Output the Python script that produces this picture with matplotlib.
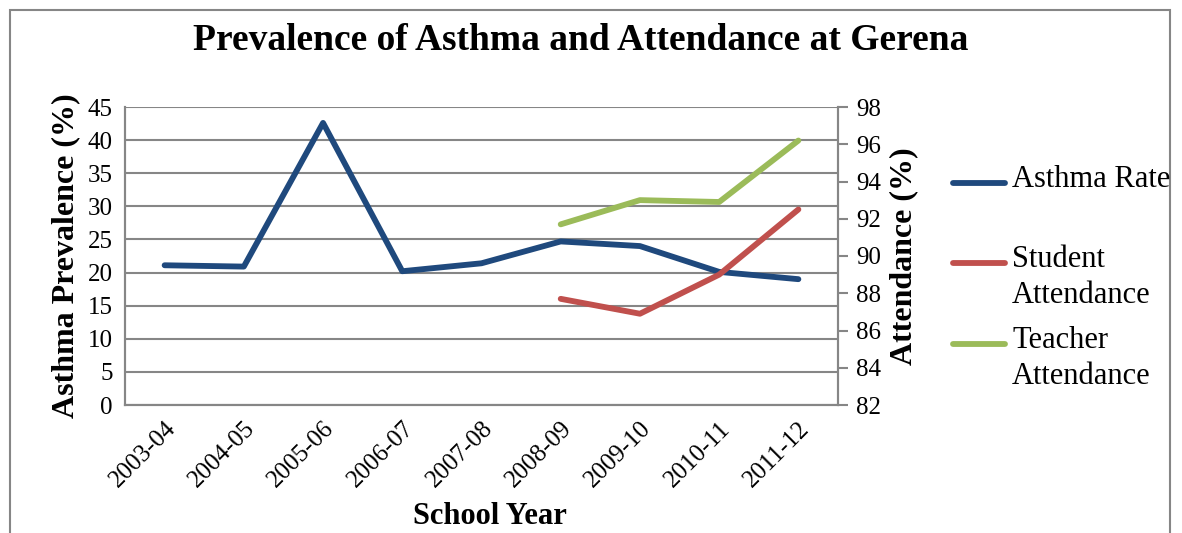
import numpy as np
import matplotlib.pyplot as plt
from matplotlib.lines import Line2D
from matplotlib.patches import Rectangle

years = ['2003-04', '2004-05', '2005-06', '2006-07', '2007-08', '2008-09', '2009-10', '2010-11', '2011-12']
asthma_rate = [21.1, 20.9, 42.6, 20.2, 21.4, 24.7, 24.0, 20.1, 19.0]
student_att = [np.nan, np.nan, np.nan, np.nan, np.nan, 87.7, 86.9, 89.0, 92.5]
teacher_att = [np.nan, np.nan, np.nan, np.nan, np.nan, 91.7, 93.0, 92.9, 96.2]

BLUE = '#1F497D'
RED = '#C0504D'
GREEN = '#9BBB59'
GREY = '#868686'

plt.rcParams['font.family'] = ['Liberation Serif', 'DejaVu Serif']

fig = plt.figure(figsize=(11.82, 5.33), dpi=100)
ax = fig.add_axes([125 / 1182, 1 - 405 / 533, (838 - 125) / 1182, (405 - 107) / 533])
ax2 = ax.twinx()

x = np.arange(len(years))
ax.plot(x, asthma_rate, color=BLUE, lw=4.2, solid_capstyle='round', zorder=5)
ax2.plot(x, student_att, color=RED, lw=4.2, solid_capstyle='round')
ax2.plot(x, teacher_att, color=GREEN, lw=4.2, solid_capstyle='round')

ax.set_xlim(-0.5, len(years) - 0.5)
ax.set_ylim(0, 45)
ax.set_yticks(range(0, 46, 5))
ax2.set_ylim(82, 98)
ax2.set_yticks(range(82, 99, 2))
ax.yaxis.grid(True, color=GREY, lw=1.5)
ax.set_axisbelow(True)

ax.set_xticks(x)
ax.set_xticklabels(years, rotation=45, ha='right', rotation_mode='anchor',
                   fontsize=18, family='Liberation Serif')
ax.tick_params(axis='x', length=0, pad=9)
ax.tick_params(axis='y', length=0, labelsize=18, pad=9)
ax2.tick_params(axis='y', length=7, width=1.5, color=GREY, labelsize=18, pad=6)

for a in (ax, ax2):
    a.spines['top'].set_visible(False)
    for s in ('left', 'right', 'bottom'):
        a.spines[s].set_color(GREY)
        a.spines[s].set_linewidth(1.5)

ax.set_ylabel('Asthma Prevalence (%)', fontsize=23, fontweight='bold', labelpad=5)
ax2.set_ylabel('Attendance (%)', fontsize=23, fontweight='bold', labelpad=6)
fig.text(490 / 1182, 1 - 517 / 533, 'School Year', fontsize=22, fontweight='bold',
         ha='center', va='center')
fig.text(581 / 1182, 1 - 40 / 533, 'Prevalence of Asthma and Attendance at Gerena',
         fontsize=27, fontweight='bold', ha='center', va='center')

# legend drawn by hand to match the uneven spacing
legend_items = [('Asthma Rate', BLUE, 183), ('Student\nAttendance', RED, 263),
                ('Teacher\nAttendance', GREEN, 344)]
for label, color, ypix in legend_items:
    yf = 1 - ypix / 533
    fig.add_artist(Line2D([953 / 1182, 1005 / 1182], [yf, yf], color=color, lw=4.2,
                          solid_capstyle='round', transform=fig.transFigure))
    fig.text(1012 / 1182, yf + 18 / 533, label, fontsize=22, ha='left', va='top',
             linespacing=1.3)

fig.add_artist(Rectangle((10 / 1182, -0.1), (1170 - 10) / 1182, 1 - 10 / 533 + 0.1,
                         fill=False, edgecolor=GREY, lw=1.5, transform=fig.transFigure))

fig.savefig('out.png', dpi=100)
